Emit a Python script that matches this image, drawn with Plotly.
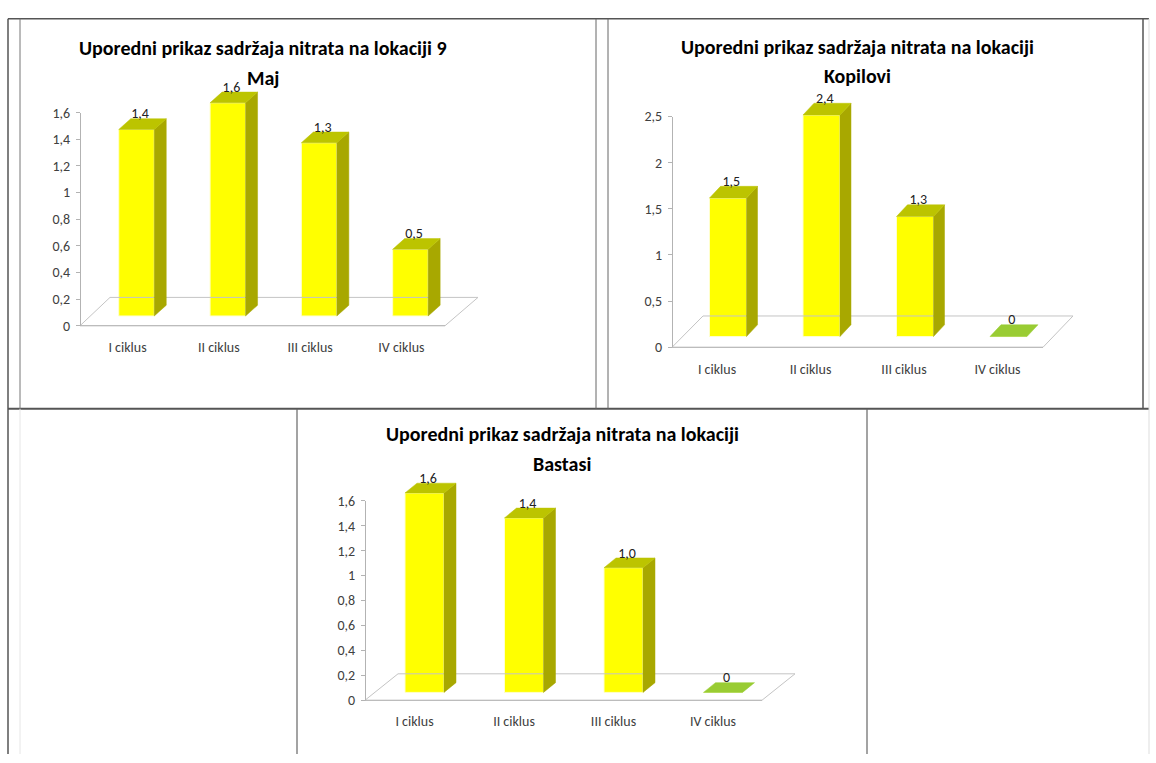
import plotly.graph_objects as go

W, H = 1156, 763

# ---------------- data ----------------
categories = ["I ciklus", "II ciklus", "III ciklus", "IV ciklus"]
values_9maj = [1.4, 1.6, 1.3, 0.5]
values_kopilovi = [1.5, 2.4, 1.3, 0.0]
values_bastasi = [1.6, 1.4, 1.0, 0.0]
yticks_9maj = [0, 0.2, 0.4, 0.6, 0.8, 1, 1.2, 1.4, 1.6]
yticks_kopilovi = [0, 0.5, 1, 1.5, 2, 2.5]
yticks_bastasi = [0, 0.2, 0.4, 0.6, 0.8, 1, 1.2, 1.4, 1.6]
title_9maj = ["Uporedni prikaz sadržaja nitrata na lokaciji 9", "Maj"]
title_kopilovi = ["Uporedni prikaz sadržaja nitrata na lokaciji", "Kopilovi"]
title_bastasi = ["Uporedni prikaz sadržaja nitrata na lokaciji", "Bastasi"]

# ---------------- styling / geometry (pixels) ----------------
FONT = "Carlito, Calibri, Lato, sans-serif"
FRONT = "#FFFF00"
SIDE = "#A8A800"
TOP = "#BCC400"
TOP_ZERO = "#99CC33"

panels = [
    dict(values=values_9maj, yticks=yticks_9maj, title=title_9maj,
         L=80, y0=325, ytop=107, c0=136.5, sp=91.3, bw=35.5, base=315, dx=12, dy=11,
         fr=445, by=296, bl=110, br=478, laby=347, laboff=-9, tx=263, ty=(41, 72)),
    dict(values=values_kopilovi, yticks=yticks_kopilovi, title=title_kopilovi,
         L=672, y0=347, ytop=111, c0=728, sp=93.5, bw=37, base=336, dx=11, dy=12,
         fr=1043, by=315, bl=703, br=1073, laby=370, laboff=-11, tx=857, ty=(40, 70)),
    dict(values=values_bastasi, yticks=yticks_bastasi, title=title_bastasi,
         L=365, y0=708, ytop=504, c0=424.5, sp=99.5, bw=39, base=700, dx=12, dy=10,
         fr=762, by=681, bl=398, br=795, laby=730, laboff=-10, tx=562, ty=(436, 466)),
]


def fmt(v):
    if v == 0:
        return "0"
    if float(v).is_integer():
        return str(int(v))
    return ("%g" % v).replace(".", ",")


def fmt_val(v):
    return "0" if v == 0 else ("%.1f" % v).replace(".", ",")


def fx(p):
    return p / W


def fy(p):
    return 1 - p / H


fig = go.Figure()
layout = dict(
    width=W, height=H, margin=dict(l=0, r=0, t=0, b=0),
    paper_bgcolor="white", plot_bgcolor="rgba(0,0,0,0)",
    showlegend=False, font=dict(family=FONT, color="#404040"),
    annotations=[], shapes=[],
)

PAD = 8
for k, P in enumerate(panels, start=1):
    xa, ya, yt = f"x{k}", f"y{k}", f"y{k + 3}"
    xname = "xaxis" if k == 1 else f"xaxis{k}"
    yname = "yaxis" if k == 1 else f"yaxis{k}"
    ytname = f"yaxis{k + 3}"
    vals = P["values"]
    ppu = (P["y0"] - P["ytop"]) / P["yticks"][-1]

    def X(p, P=P):
        return (p - P["c0"]) / P["sp"]

    def V(py, P=P, ppu=ppu):
        return (P["y0"] - py) / ppu

    top_px = P["ty"][1] - 8
    layout[xname] = dict(
        domain=[fx(P["L"] - PAD), fx(P["br"] + PAD)],
        range=[X(P["L"] - PAD), X(P["br"] + PAD)],
        anchor=ya, showline=False, showgrid=False, zeroline=False,
        tickmode="array",
        tickvals=[i + P["laboff"] / P["sp"] for i in range(len(categories))],
        ticktext=categories, ticks="",
        tickfont=dict(size=14, color="#404040", family=FONT),
        ticklabelstandoff=P["laby"] - 7 - (P["y0"] + PAD) - 4,
        fixedrange=True,
    )
    layout[yname] = dict(
        domain=[fy(P["y0"] + PAD), fy(top_px)],
        range=[V(P["y0"] + PAD), V(top_px)],
        anchor=xa, visible=False, fixedrange=True,
    )
    layout[ytname] = dict(
        domain=[fy(P["y0"]), fy(P["ytop"])],
        range=[0, P["yticks"][-1]],
        anchor="free", position=fx(P["L"]), side="left",
        showline=True, linecolor="#b3b3b3", linewidth=1,
        ticks="outside", ticklen=4, tickcolor="#b3b3b3",
        tickmode="array", tickvals=P["yticks"],
        ticktext=[fmt(t) for t in P["yticks"]],
        tickfont=dict(size=14, color="#404040", family=FONT),
        ticklabelstandoff=3,
        showgrid=False, zeroline=False, fixedrange=True,
    )
    # dummy trace so the tick axis is drawn
    fig.add_trace(go.Scatter(x=[None], y=[None], xaxis=xa, yaxis=yt,
                             hoverinfo="skip", showlegend=False))

    # floor of the 3D chart
    b_floor = V(P["by"])
    fig.add_trace(go.Scatter(
        x=[X(P["L"]), X(P["bl"]), X(P["br"]), X(P["fr"])],
        y=[0, b_floor, b_floor, 0], mode="lines",
        line=dict(color="#c4c4c4", width=1), xaxis=xa, yaxis=ya,
        hoverinfo="skip", showlegend=False))
    fig.add_trace(go.Scatter(
        x=[X(P["L"]), X(P["fr"])], y=[0, 0], mode="lines",
        line=dict(color="#a6a6a6", width=1.2), xaxis=xa, yaxis=ya,
        hoverinfo="skip", showlegend=False))

    base = V(P["base"])
    bw = P["bw"] / P["sp"]
    ddx = P["dx"] / P["sp"]
    ddy = P["dy"] / ppu
    idx = list(range(len(categories)))

    # front faces
    fig.add_trace(go.Bar(
        x=idx, y=vals, base=base, width=bw, xaxis=xa, yaxis=ya,
        marker=dict(color=FRONT, line=dict(color="#ffffcc", width=1)),
        cliponaxis=False, hoverinfo="skip", showlegend=False))

    # side faces and top faces
    for i, v in zip(idx, vals):
        xl, xr = i - bw / 2, i + bw / 2
        if v > 0:
            fig.add_trace(go.Scatter(
                x=[xr, xr + ddx, xr + ddx, xr, xr],
                y=[base, base + ddy, base + v + ddy, base + v, base],
                mode="lines", fill="toself", fillcolor=SIDE,
                line=dict(color=SIDE, width=0.5), xaxis=xa, yaxis=ya,
                hoverinfo="skip", showlegend=False))
        fig.add_trace(go.Scatter(
            x=[xl, xr, xr + ddx, xl + ddx, xl],
            y=[base + v, base + v, base + v + ddy, base + v + ddy, base + v],
            mode="lines", fill="toself",
            fillcolor=TOP if v > 0 else TOP_ZERO,
            line=dict(color=TOP if v > 0 else TOP_ZERO, width=0.5),
            xaxis=xa, yaxis=ya, hoverinfo="skip", showlegend=False))

    # value labels
    fig.add_trace(go.Scatter(
        x=[i + ddx * 0.3 for i in idx],
        y=[base + v + ddy + 4 / ppu for v in vals],
        mode="text", text=[fmt_val(v) for v in vals],
        textposition="middle center",
        textfont=dict(size=14, color="#222222", family=FONT),
        xaxis=xa, yaxis=ya, cliponaxis=False,
        hoverinfo="skip", showlegend=False))

    # titles (two lines)
    for line_txt, ly in zip(P["title"], P["ty"]):
        layout["annotations"].append(dict(
            text=f"<b>{line_txt}</b>", x=fx(P["tx"]), y=fy(ly),
            xref="paper", yref="paper", xanchor="center", yanchor="middle",
            borderpad=0,
            showarrow=False, font=dict(size=20, color="#000000", family=FONT)))

# ---------------- frame / table lines ----------------
def hline(x0, x1, y, color="#555555", w=1.5):
    return dict(type="line", xref="paper", yref="paper",
                x0=fx(x0), x1=fx(x1), y0=fy(y), y1=fy(y),
                line=dict(color=color, width=w))


def vline(x, y0, y1, color="#555555", w=1.5):
    return dict(type="line", xref="paper", yref="paper",
                x0=fx(x), x1=fx(x), y0=fy(y0), y1=fy(y1),
                line=dict(color=color, width=w))


layout["shapes"] += [
    hline(8, 1149, 11),
    hline(8, 1149, 410, w=2),
    vline(8, 11, 763),
    vline(20, 11, 410, color="#777777", w=1),
    vline(20, 410, 763, color="#e6e6e6", w=1),
    vline(596, 11, 410, color="#666666", w=1),
    vline(608, 11, 410, color="#666666", w=1),
    vline(1143, 11, 410, color="#555555", w=1.5),
    vline(1149, 11, 763, color="#dddddd", w=1),
    vline(297, 410, 763, color="#666666", w=1.2),
    vline(867, 410, 763, color="#666666", w=1.2),
]

fig.update_layout(**layout)
fig.write_html("out.html")
